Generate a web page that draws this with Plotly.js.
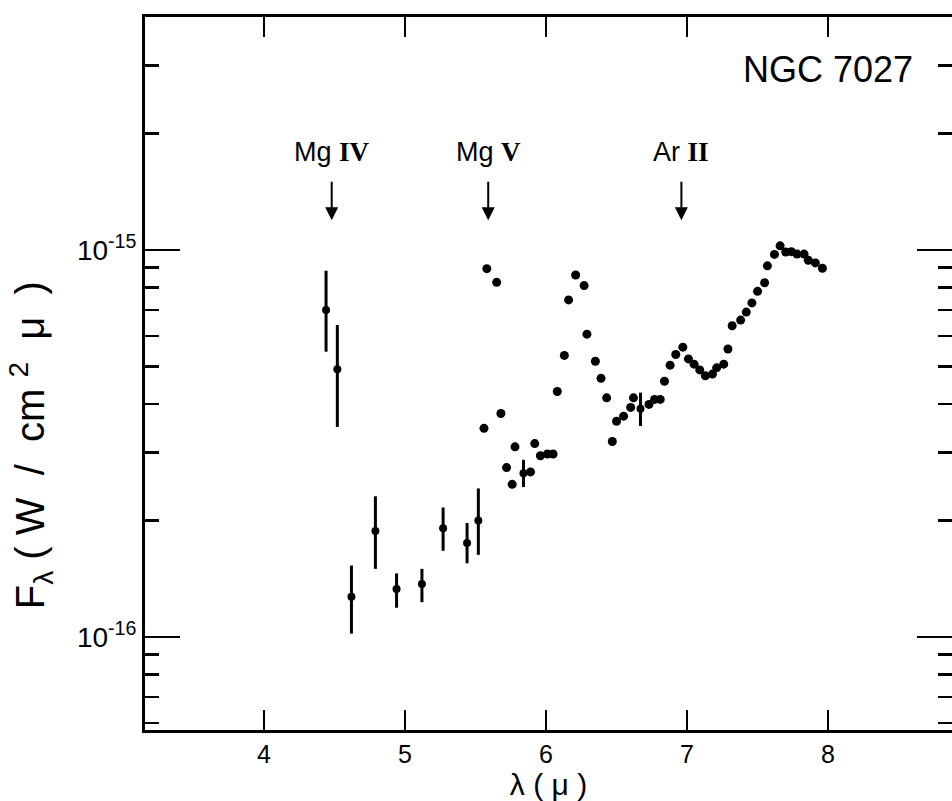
<!DOCTYPE html>
<html>
<head>
<meta charset="utf-8">
<script src="https://cdn.plot.ly/plotly-3.0.1.min.js"></script>
<style>html,body{margin:0;padding:0;background:#fff;}</style>
</head>
<body>
<div id="chart" style="width:952px;height:801px;"></div>
<script>
// wavelength (micron)
const wavelength = [4.44, 4.52, 4.62, 4.79, 4.94, 5.12, 5.27, 5.44, 5.52, 5.56,
  5.58, 5.65, 5.68, 5.72, 5.76, 5.78, 5.84, 5.89, 5.92, 5.96,
  6.01, 6.05, 6.08, 6.13, 6.16, 6.21, 6.27, 6.29, 6.35, 6.39,
  6.43, 6.47, 6.50, 6.55, 6.60, 6.62, 6.67, 6.73, 6.77, 6.81,
  6.84, 6.88, 6.92, 6.97, 7.01, 7.05, 7.09, 7.13, 7.18, 7.21,
  7.26, 7.29, 7.32, 7.38, 7.42, 7.46, 7.50, 7.55, 7.57, 7.62,
  7.66, 7.70, 7.74, 7.78, 7.83, 7.86, 7.91, 7.96];
// flux F_lambda (W / cm^2 micron)
const flux = [7.0e-16, 4.92e-16, 1.27e-16, 1.88e-16, 1.33e-16, 1.37e-16, 1.91e-16, 1.75e-16, 2.0e-16, 3.46e-16,
  8.95e-16, 8.25e-16, 3.78e-16, 2.74e-16, 2.48e-16, 3.10e-16, 2.65e-16, 2.67e-16, 3.16e-16, 2.94e-16,
  2.97e-16, 2.97e-16, 4.31e-16, 5.34e-16, 7.43e-16, 8.62e-16, 8.09e-16, 6.06e-16, 5.16e-16, 4.66e-16,
  4.15e-16, 3.20e-16, 3.61e-16, 3.72e-16, 3.92e-16, 4.15e-16, 3.89e-16, 3.99e-16, 4.11e-16, 4.11e-16,
  4.58e-16, 5.04e-16, 5.37e-16, 5.61e-16, 5.23e-16, 5.07e-16, 4.90e-16, 4.73e-16, 4.78e-16, 4.96e-16,
  5.07e-16, 5.55e-16, 6.37e-16, 6.59e-16, 6.91e-16, 7.30e-16, 7.82e-16, 8.23e-16, 9.10e-16, 9.74e-16,
  1.025e-15, 9.88e-16, 9.90e-16, 9.76e-16, 9.76e-16, 9.41e-16, 9.26e-16, 8.97e-16];
// error bar bounds (null = no error bar drawn)
const errUpper = [8.84e-16, 6.40e-16, 1.53e-16, 2.31e-16, 1.46e-16, 1.50e-16, 2.16e-16, 1.97e-16, 2.42e-16, null,
  null, null, null, null, null, null, 2.87e-16, null, null, null,
  null, null, null, null, null, null, null, null, null, null,
  null, null, null, null, null, null, 4.28e-16, null, null, null,
  null, null, null, null, null, null, null, null, null, null,
  null, null, null, null, null, null, null, null, null, null,
  null, null, null, null, null, null, null, null];
const errLower = [5.46e-16, 3.49e-16, 1.02e-16, 1.50e-16, 1.19e-16, 1.23e-16, 1.67e-16, 1.55e-16, 1.63e-16, null,
  null, null, null, null, null, null, 2.44e-16, null, null, null,
  null, null, null, null, null, null, null, null, null, null,
  null, null, null, null, null, null, 3.51e-16, null, null, null,
  null, null, null, null, null, null, null, null, null, null,
  null, null, null, null, null, null, null, null, null, null,
  null, null, null, null, null, null, null, null];

// spectral line markers
const lineNames = ['Mg <span style="font-family:\'Liberation Serif\',serif;font-weight:bold">IV</span>',
                   'Mg <span style="font-family:\'Liberation Serif\',serif;font-weight:bold">V</span>',
                   'Ar <span style="font-family:\'Liberation Serif\',serif;font-weight:bold">II</span>'];
const lineWavelengths = [4.48, 5.59, 6.96];

const xTickVals = [4, 5, 6, 7, 8];
const yTickVals = [1e-16, 1e-15];
const yTickText = ['10<sup>-16</sup>', '10<sup>-15</sup>'];
const yMinorTickVals = [6e-17, 7e-17, 8e-17, 9e-17, 2e-16, 3e-16, 4e-16, 5e-16, 6e-16, 7e-16, 8e-16, 9e-16, 2e-15, 3e-15];

const idxErr = [], idxPlain = [];
flux.forEach((v, i) => (errUpper[i] !== null ? idxErr : idxPlain).push(i));

const FONT = 'Liberation Sans, Arial, Helvetica, sans-serif';

const traces = [
  {
    type: 'scatter', mode: 'markers',
    x: idxPlain.map(i => wavelength[i]), y: idxPlain.map(i => flux[i]),
    marker: {color: '#000', size: 9},
    hoverinfo: 'x+y'
  },
  {
    type: 'scatter', mode: 'markers',
    x: idxErr.map(i => wavelength[i]), y: idxErr.map(i => flux[i]),
    marker: {color: '#000', size: 8},
    error_y: {
      type: 'data', symmetric: false,
      array: idxErr.map(i => errUpper[i] - flux[i]),
      arrayminus: idxErr.map(i => flux[i] - errLower[i]),
      color: '#000', thickness: 3, width: 0
    },
    hoverinfo: 'x+y'
  }
];

const annotations = [
  {text: 'NGC 7027', xref: 'x', yref: 'paper', x: 8.0, y: 0.926, showarrow: false,
   font: {family: FONT, size: 36, color: '#000'}, xanchor: 'center', yanchor: 'middle'},
  {text: 'F<sub>λ</sub>&nbsp;(&nbsp;W&nbsp;&nbsp;/&nbsp;&nbsp;cm&nbsp;<sup>2</sup>&nbsp;&nbsp;μ&nbsp;&nbsp;)', xref: 'paper', yref: 'paper', x: -0.142, y: 0.40,
   textangle: -90, showarrow: false, font: {family: FONT, size: 40, color: '#000'}, xanchor: 'center', yanchor: 'middle'}
];
lineNames.forEach((name, k) => {
  annotations.push({text: name, xref: 'x', yref: 'paper', x: lineWavelengths[k], y: 0.81, showarrow: false,
    font: {family: FONT, size: 27, color: '#000'}, xanchor: 'center', yanchor: 'middle'});
  annotations.push({text: '', xref: 'x', yref: 'paper', x: lineWavelengths[k], y: 0.715,
    showarrow: true, ax: 0, ay: -40, arrowhead: 2, arrowsize: 1.3, arrowwidth: 2, arrowcolor: '#000'});
});

const layout = {
  width: 952, height: 801,
  margin: {l: 145, r: 0, t: 17, b: 71},
  paper_bgcolor: '#fff', plot_bgcolor: '#fff',
  showlegend: false,
  xaxis: {
    range: [3.156, 8.879],
    tickmode: 'array', tickvals: xTickVals,
    ticks: 'inside', ticklen: 20, tickwidth: 2.5, tickcolor: '#000',
    showline: true, linewidth: 3, linecolor: '#000', mirror: 'ticks',
    showgrid: false, zeroline: false,
    tickfont: {family: FONT, size: 25, color: '#000'},
    title: {text: 'λ ( μ )', font: {family: FONT, size: 30, color: '#000'}, standoff: 0}
  },
  yaxis: {
    type: 'log',
    range: [Math.log10(5.75e-17), Math.log10(4e-15)],
    tickmode: 'array', tickvals: yTickVals, ticktext: yTickText,
    ticks: 'inside', ticklen: 35, tickwidth: 2.5, tickcolor: '#000',
    minor: {tickmode: 'array', tickvals: yMinorTickVals, ticks: 'inside', ticklen: 14, tickwidth: 2.5, tickcolor: '#000', showgrid: false},
    showline: true, linewidth: 3, linecolor: '#000', mirror: 'ticks',
    showgrid: false, zeroline: false,
    tickfont: {family: FONT, size: 28, color: '#000'}
  },
  annotations: annotations
};

Plotly.newPlot('chart', traces, layout, {displayModeBar: false, staticPlot: true});
</script>
</body>
</html>
